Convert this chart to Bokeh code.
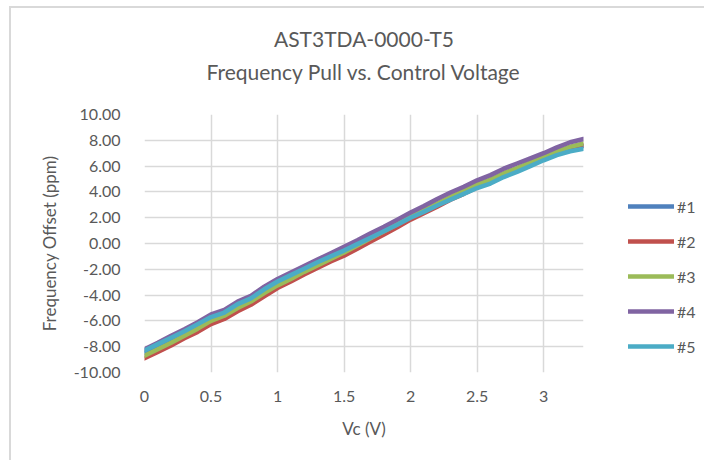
from bokeh.plotting import figure
from bokeh.layouts import row
from bokeh.models import (Legend, LegendItem, Title, FixedTicker, PrintfTickFormatter,
                          CustomJSTickFormatter, Range1d, ColumnDataSource)
from bokeh.embed import file_html
from bokeh.resources import INLINE

title_line1 = "AST3TDA-0000-T5"
title_line2 = "Frequency Pull vs. Control Voltage"
x_label = "Vc (V)"
y_label = "Frequency Offset (ppm)"

vc = [0.0, 0.1, 0.2, 0.3, 0.4, 0.5, 0.6, 0.7, 0.8, 0.9, 1.0, 1.1, 1.2, 1.3, 1.4, 1.5, 1.6,
      1.7, 1.8, 1.9, 2.0, 2.1, 2.2, 2.3, 2.4, 2.5, 2.6, 2.7, 2.8, 2.9, 3.0, 3.1, 3.2, 3.3]

s1 = [-8.50, -8.00, -7.50, -7.00, -6.45, -5.85, -5.45, -4.85, -4.40, -3.70, -3.10, -2.60,
      -2.05, -1.55, -1.05, -0.60, -0.05, 0.45, 1.00, 1.55, 2.10, 2.55, 3.05, 3.55, 4.00,
      4.50, 4.85, 5.35, 5.75, 6.20, 6.65, 7.05, 7.35, 7.55]
s2 = [-8.90, -8.40, -7.90, -7.35, -6.85, -6.25, -5.85, -5.25, -4.75, -4.10, -3.45, -2.95,
      -2.40, -1.90, -1.40, -0.95, -0.40, 0.15, 0.70, 1.25, 1.85, 2.35, 2.85, 3.40, 3.85,
      4.35, 4.75, 5.25, 5.70, 6.15, 6.60, 7.00, 7.35, 7.60]
s3 = [-8.70, -8.20, -7.70, -7.15, -6.60, -6.00, -5.60, -5.00, -4.50, -3.85, -3.25, -2.75,
      -2.20, -1.70, -1.20, -0.70, -0.15, 0.40, 0.95, 1.50, 2.10, 2.60, 3.10, 3.60, 4.10,
      4.60, 4.95, 5.45, 5.85, 6.30, 6.75, 7.15, 7.50, 7.75]
s4 = [-8.20, -7.70, -7.15, -6.65, -6.10, -5.50, -5.15, -4.50, -4.05, -3.35, -2.75, -2.25,
      -1.75, -1.25, -0.75, -0.25, 0.25, 0.80, 1.30, 1.85, 2.40, 2.90, 3.45, 3.95, 4.40,
      4.90, 5.30, 5.80, 6.20, 6.60, 7.00, 7.45, 7.85, 8.10]
s5 = [-8.30, -7.80, -7.30, -6.80, -6.25, -5.70, -5.35, -4.70, -4.25, -3.55, -2.95, -2.45,
      -1.95, -1.45, -1.00, -0.55, -0.05, 0.45, 0.95, 1.45, 2.00, 2.45, 2.95, 3.40, 3.85,
      4.30, 4.65, 5.15, 5.55, 6.00, 6.45, 6.85, 7.15, 7.35]

series_names = ["#1", "#2", "#3", "#4", "#5"]
series_values = [s1, s2, s3, s4, s5]
colors = ["#4F81BD", "#C0504D", "#9BBB59", "#8064A2", "#4BACC6"]

x_ticks = [0, 0.5, 1, 1.5, 2, 2.5, 3]
y_ticks = [-10, -8, -6, -4, -2, 0, 2, 4, 6, 8, 10]

FONT = "Lato"
TXT = "#595959"
H = 452

p = figure(width=600, height=H, output_backend="svg", toolbar_location=None,
           x_range=Range1d(0, 3.3), y_range=Range1d(-10, 10),
           min_border_left=133, min_border_right=28, min_border_top=106,
           min_border_bottom=88)
p.title = None
p.outline_line_color = None
p.background_fill_color = "white"
p.border_fill_color = "white"

for vals, col in zip(series_values, colors):
    src = ColumnDataSource(dict(x=vc, y=vals))
    p.line("x", "y", source=src, line_color=col, line_width=4.5,
           line_cap="round", line_join="round")

for ax in (p.xaxis[0], p.yaxis[0]):
    ax.axis_line_color = None
    ax.major_tick_line_color = None
    ax.minor_tick_line_color = None
    ax.major_label_text_font = FONT
    ax.major_label_text_font_size = "16px"
    ax.major_label_text_color = TXT
    ax.axis_label_text_font = FONT
    ax.axis_label_text_font_size = "17px"
    ax.axis_label_text_font_style = "normal"
    ax.axis_label_text_color = TXT

p.xaxis.ticker = FixedTicker(ticks=x_ticks)
p.yaxis.ticker = FixedTicker(ticks=y_ticks)
p.xaxis.formatter = CustomJSTickFormatter(code="return tick.toString();")
p.yaxis.formatter = PrintfTickFormatter(format="%.2f")
p.xaxis.axis_label = x_label
p.yaxis.axis_label = y_label
p.xaxis.major_label_standoff = 12
p.yaxis.major_label_standoff = 18
p.xaxis.axis_label_standoff = 13
p.yaxis.axis_label_standoff = 11

p.xgrid.grid_line_color = "#d9d9d9"
p.ygrid.grid_line_color = "#d9d9d9"
p.xgrid.grid_line_width = 1.5
p.ygrid.grid_line_width = 1.5

title_style = dict(align="center", text_font=FONT, text_font_size="21px",
                   text_font_style="normal", text_color=TXT)
p.add_layout(Title(text=" ", standoff=1, **title_style), "above")
p.add_layout(Title(text=title_line2, standoff=6, **title_style), "above")
p.add_layout(Title(text=title_line1, standoff=6, **title_style), "above")

# legend panel: a narrow figure whose frame holds only the legend
pl = figure(width=93, height=H, output_backend="svg", toolbar_location=None,
            x_range=Range1d(100, 101), y_range=Range1d(100, 101),
            x_axis_location=None, y_axis_location=None,
            min_border_left=0, min_border_right=0, min_border_top=0, min_border_bottom=0)
pl.title = None
pl.grid.visible = False
pl.outline_line_color = None
pl.border_fill_color = "white"

items = []
for name, vals, col in zip(series_names, series_values, colors):
    src = ColumnDataSource(dict(x=vc, y=vals))
    r = pl.line("x", "y", source=src, line_color=col, line_width=4.5, line_cap="round")
    items.append(LegendItem(label=name, renderers=[r]))

legend = Legend(items=items, location=(17, 16), padding=0, margin=0, spacing=15,
                glyph_width=46, glyph_height=20, label_standoff=3,
                label_text_font=FONT, label_text_font_size="16px", label_text_color=TXT,
                border_line_color=None, background_fill_alpha=0)
pl.add_layout(legend, "center")

layout = row(p, pl)
layout.styles = {"border-left": "2px solid #d9d9d9", "border-top": "2px solid #d9d9d9",
                 "margin-left": "9px", "margin-top": "6px"}

open("out.html", "w").write(file_html(layout, INLINE))
